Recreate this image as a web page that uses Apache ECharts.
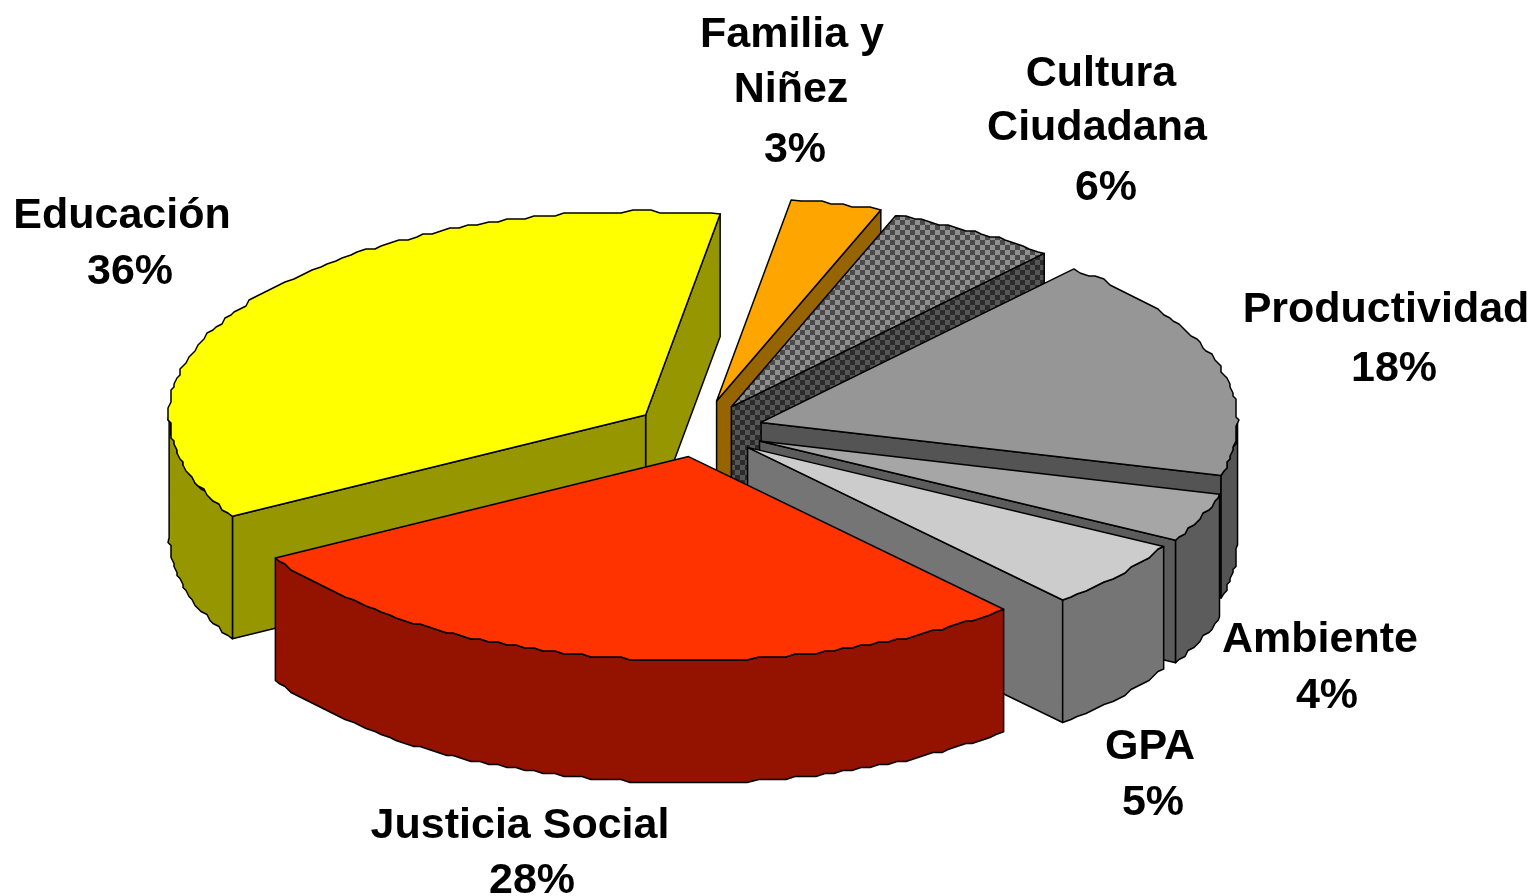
<!DOCTYPE html>
<html><head><meta charset="utf-8">
<style>html,body{margin:0;padding:0;background:#fff}#c{width:1537px;height:896px}</style>
<script src="https://cdn.jsdelivr.net/npm/echarts@6/dist/echarts.min.js"></script>
</head><body><div id="c"></div>
<script>
// --- data ---
const categories = ['Educación','Justicia Social','GPA','Ambiente','Productividad','Cultura Ciudadana','Familia y Niñez'];
const shares     = [35.8, 28.2, 5.4, 3.9, 17.8, 5.8, 3.1];
const percents   = [36, 28, 5, 4, 18, 6, 3];
const nameLines  = [['Educación'],['Justicia Social'],['GPA'],['Ambiente'],['Productividad'],['Cultura','Ciudadana'],['Familia y','Niñez']];
const explode    = [0.135, 0.13, 0.132, 0.138, 0.137, 0.135, 0.15];

// --- layout and style ---
const START_ANGLE = 81;
const CENTER = [698.6, 430.5], RX = 476.5, RY = 203.5, DEPTH = 122.5, SNAP = 3, STEP_PX = 7;
const topColors  = ['#ffff00','#ff3300','#cccccc','#a6a6a6','#969696',null,'#ffa500'];
const sideColors = ['#969600','#931200','#757575','#5c5c5c','#545454',null,'#966400'];
const labelPos = [
  [[122,216],[130,272]],
  [[520,826],[532,881]],
  [[1150,747],[1153,803]],
  [[1320,640],[1327,696]],
  [[1386,310],[1394,369]],
  [[1101,74],[1097,128],[1106,188]],
  [[792,35],[791,90],[795,150]]
];
function checker(a, b, cell) {
  const c = document.createElement('canvas'); c.width = c.height = cell * 2;
  const g = c.getContext('2d');
  g.fillStyle = a; g.fillRect(0,0,cell*2,cell*2);
  g.fillStyle = b; g.fillRect(0,0,cell,cell); g.fillRect(cell,cell,cell,cell);
  return {image: c, repeat: 'repeat'};
}
topColors[5]  = checker('#8f8f8f', '#4a4a4a', 5);
sideColors[5] = checker('#555555', '#2b2b2b', 5);

const total = shares.reduce((a, b) => a + b, 0);
const rad = d => d * Math.PI / 180;
let acc = START_ANGLE;
const slices = shares.map(v => {
  const a1 = acc, a2 = acc + v / total * 360; acc = a2;
  return {a1, a2, mid: (a1 + a2) / 2};
});
function pt(ap, ang) { return [ap[0] + RX * Math.cos(rad(ang)), ap[1] - RY * Math.sin(rad(ang))]; }
function arc(ap, a1, a2) {
  const len = rad(a2 - a1) * (RX + RY) / 2, n = Math.max(2, Math.round(len / STEP_PX));
  const out = [];
  for (let k = 0; k <= n; k++) {
    const p = pt(ap, a1 + (a2 - a1) * k / n);
    out.push(k === 0 || k === n ? p : [Math.round(p[0] / SNAP) * SNAP, Math.round(p[1] / SNAP) * SNAP]);
  }
  return out;
}
const down = p => [p[0], p[1] + DEPTH];
const lineStyle = {stroke: '#000', lineWidth: 1.5, lineJoin: 'round'};

function renderSlice(params, api) {
  const i = api.value(0), s = slices[i];
  const rank = -Math.sin(rad(s.mid)) * 1000;
  const ex = explode[i], m = rad(s.mid);
  const ap = [CENTER[0] + RX * ex * Math.cos(m), CENTER[1] - RY * ex * Math.sin(m)];
  const rimAll = arc(ap, s.a1, s.a2);
  const kids = [];
  const poly = (points, fill, o) => kids.push({type: 'polygon', z2: rank + o, shape: {points},
    style: Object.assign({fill}, lineStyle)});
  const side = sideColors[i];
  if (Math.cos(rad(s.a1)) > 0) { const e = pt(ap, s.a1); poly([ap, e, down(e), down(ap)], side, 1); }
  if (Math.cos(rad(s.a2)) < 0) { const e = pt(ap, s.a2); poly([ap, e, down(e), down(ap)], side, 1); }
  [[180, 360], [540, 720]].forEach(([lo, hi]) => {
    const from = Math.max(s.a1, lo), to = Math.min(s.a2, hi);
    if (to > from + 0.01) {
      const r = arc(ap, from, to);
      poly(r.concat(r.map(down).reverse()), side, 2);
    }
  });
  poly([ap].concat(rimAll), topColors[i], 3);
  return {type: 'group', children: kids};
}
function renderLabel(params, api) {
  const i = api.value(0);
  const lines = nameLines[i].concat([percents[i] + '%']);
  return {type: 'group', children: lines.map((t, k) => ({
    type: 'text', z2: 5000,
    style: {x: labelPos[i][k][0], y: labelPos[i][k][1], text: t, fill: '#000', align: 'center', verticalAlign: 'middle',
      font: 'bold 43px "Liberation Sans", Arial, sans-serif'}
  }))};
}
const chart = echarts.init(document.getElementById('c'), null, {renderer: 'canvas'});
const order = categories.map((_, i) => i).sort((a, b) => Math.sin(rad(slices[b].mid)) - Math.sin(rad(slices[a].mid)));
chart.setOption({
  animation: false,
  backgroundColor: '#fff',
  series: [
    {type: 'custom', coordinateSystem: 'none', silent: true, renderItem: renderSlice,
     encode: {value: 0}, data: order.map(i => ({name: categories[i], value: [i, shares[i]]}))},
    {type: 'custom', coordinateSystem: 'none', silent: true, renderItem: renderLabel, z: 5,
     data: categories.map((n, i) => ({name: n, value: [i, percents[i]]}))}
  ]
});
</script></body></html>
